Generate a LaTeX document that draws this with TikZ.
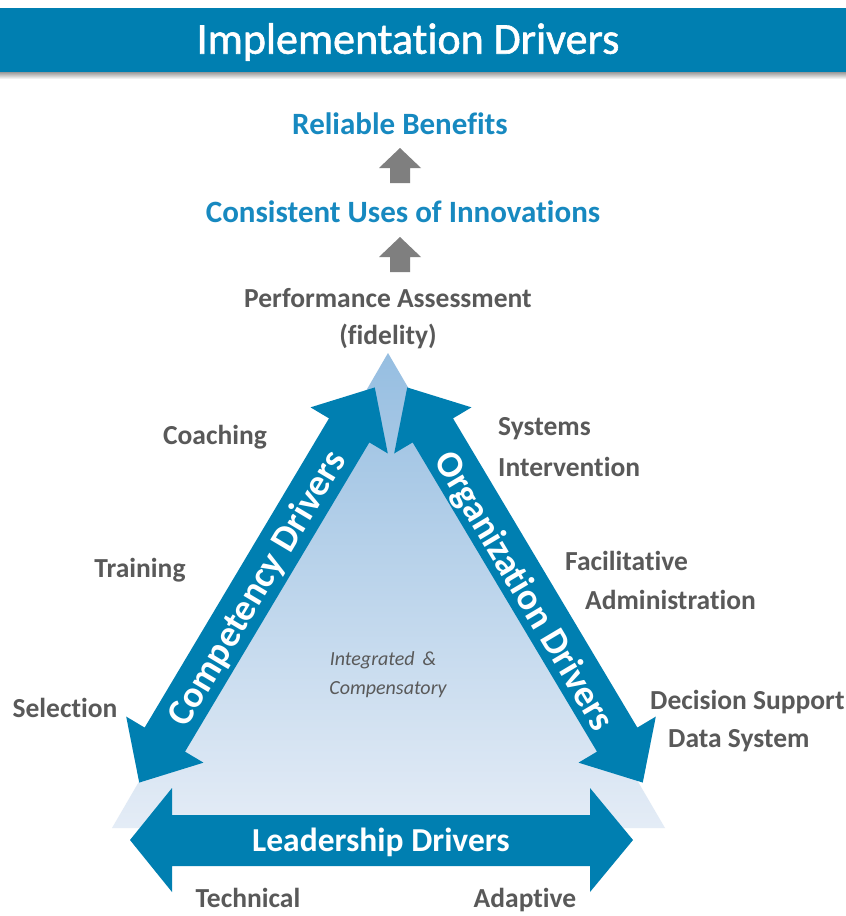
\documentclass[tikz,border=0pt]{standalone}
\usepackage{fontspec}
\setmainfont[Ligatures=NoCommon]{Carlito}
\newfontfamily\titlefont[FakeBold=1.3,Ligatures=NoCommon]{Carlito}
\definecolor{blueMain}{RGB}{0,127,177}
\definecolor{titleBlue}{RGB}{23,137,192}
\definecolor{grayText}{RGB}{89,89,89}
\definecolor{grayArrow}{RGB}{127,127,127}
\definecolor{triTop}{RGB}{150,190,225}
\definecolor{triBot}{RGB}{228,236,246}
\begin{document}
\begin{tikzpicture}[x=1pt,y=-1pt,
  header/.style={text=white, font=\titlefont\fontsize{44}{48}\selectfont, inner sep=0pt},
  bluelabel/.style={text=titleBlue, font=\fontsize{31}{35}\selectfont\bfseries, inner sep=0pt},
  graylabel/.style={text=grayText, font=\fontsize{27.5}{31}\selectfont\bfseries, inner sep=0pt},
  drvtext/.style={text=white, font=\fontsize{37.5}{41}\selectfont\bfseries, inner sep=0pt},
  leadtext/.style={text=white, font=\fontsize{33.5}{37}\selectfont\bfseries, inner sep=0pt},
  centretext/.style={text=grayText, font=\fontsize{20}{24}\selectfont\itshape, inner sep=0pt},
  bigarrow/.style={fill=blueMain},
  smallarrow/.style={fill=grayArrow}]
\useasboundingbox (0,0) rectangle (846,916);
\fill[white] (0,0) rectangle (846,916);
% header bar
\shade[top color=black!40, bottom color=white] (0,72) rectangle (846,79);
\fill[blueMain] (0,8) rectangle (846,72);
\node[header] (title) at (408,42) {Implementation Drivers};
% outcome labels
\node[bluelabel] (reliable) at (400,124) {Reliable Benefits};
\node[bluelabel] (consistent) at (403,212) {Consistent Uses of Innovations};
\fill[smallarrow] (400,148) -- (421,168) -- (410,168) -- (410,183) -- (390,183) -- (390,168) -- (379,168) -- cycle;
\fill[smallarrow] (400,237) -- (421,257) -- (410,257) -- (410,272) -- (390,272) -- (390,257) -- (379,257) -- cycle;
\node[graylabel] (perf) at (388,298) {Performance Assessment};
\node[graylabel] (fid) at (388,336) {(fidelity)};
% triangle
\shade[top color=triTop, bottom color=triBot] (388,353) -- (665,828) -- (112,828) -- cycle;
% bottom arrow
\fill[bigarrow] (130,840) -- (172,788) -- (172,815) -- (590,815) -- (590,788) -- (633,840) -- (590,892) -- (590,866) -- (172,866) -- (172,892) -- cycle;
% left arrow
\begin{scope}[shift={(257,585)}, rotate=59.2]
\fill[bigarrow] (-230,0) -- (-180,-45) -- (-180,-23.5) -- (180,-23.5) -- (180,-45) -- (230,0) -- (180,45) -- (180,23.5) -- (-180,23.5) -- (-180,45) -- cycle;
\end{scope}
% right arrow
\begin{scope}[shift={(525,585)}, rotate=-59.2]
\fill[bigarrow] (-230,0) -- (-180,-45) -- (-180,-23.5) -- (180,-23.5) -- (180,-45) -- (230,0) -- (180,45) -- (180,23.5) -- (-180,23.5) -- (-180,45) -- cycle;
\end{scope}
\node[drvtext, rotate=59.2] (comp) at (258,589) {Competency Drivers};
\node[drvtext, rotate=-59.2] (org) at (523,592) {Organization Drivers};
\node[leadtext] (lead) at (381,842) {Leadership Drivers};
% centre text
\node[centretext] (integ) at (383,660) {Integrated \,\&};
\node[centretext] (comps) at (388,690) {Compensatory};
% side labels
\node[graylabel] (coach) at (215,437) {Coaching};
\node[graylabel] (train) at (140,570) {Training};
\node[graylabel] (select) at (65,708) {Selection};
\node[graylabel, anchor=west] (systems) at (498,429) {Systems};
\node[graylabel, anchor=west] (interv) at (498,467) {Intervention};
\node[graylabel, anchor=west] (facil) at (565,561) {Facilitative};
\node[graylabel, anchor=west] (admin) at (585,600) {Administration};
\node[graylabel, anchor=west] (decis) at (650,702) {Decision Support};
\node[graylabel, anchor=west] (datas) at (668,741) {Data System};
\node[graylabel] (tech) at (248,898) {Technical};
\node[graylabel] (adapt) at (525,900) {Adaptive};
\end{tikzpicture}
\end{document}
